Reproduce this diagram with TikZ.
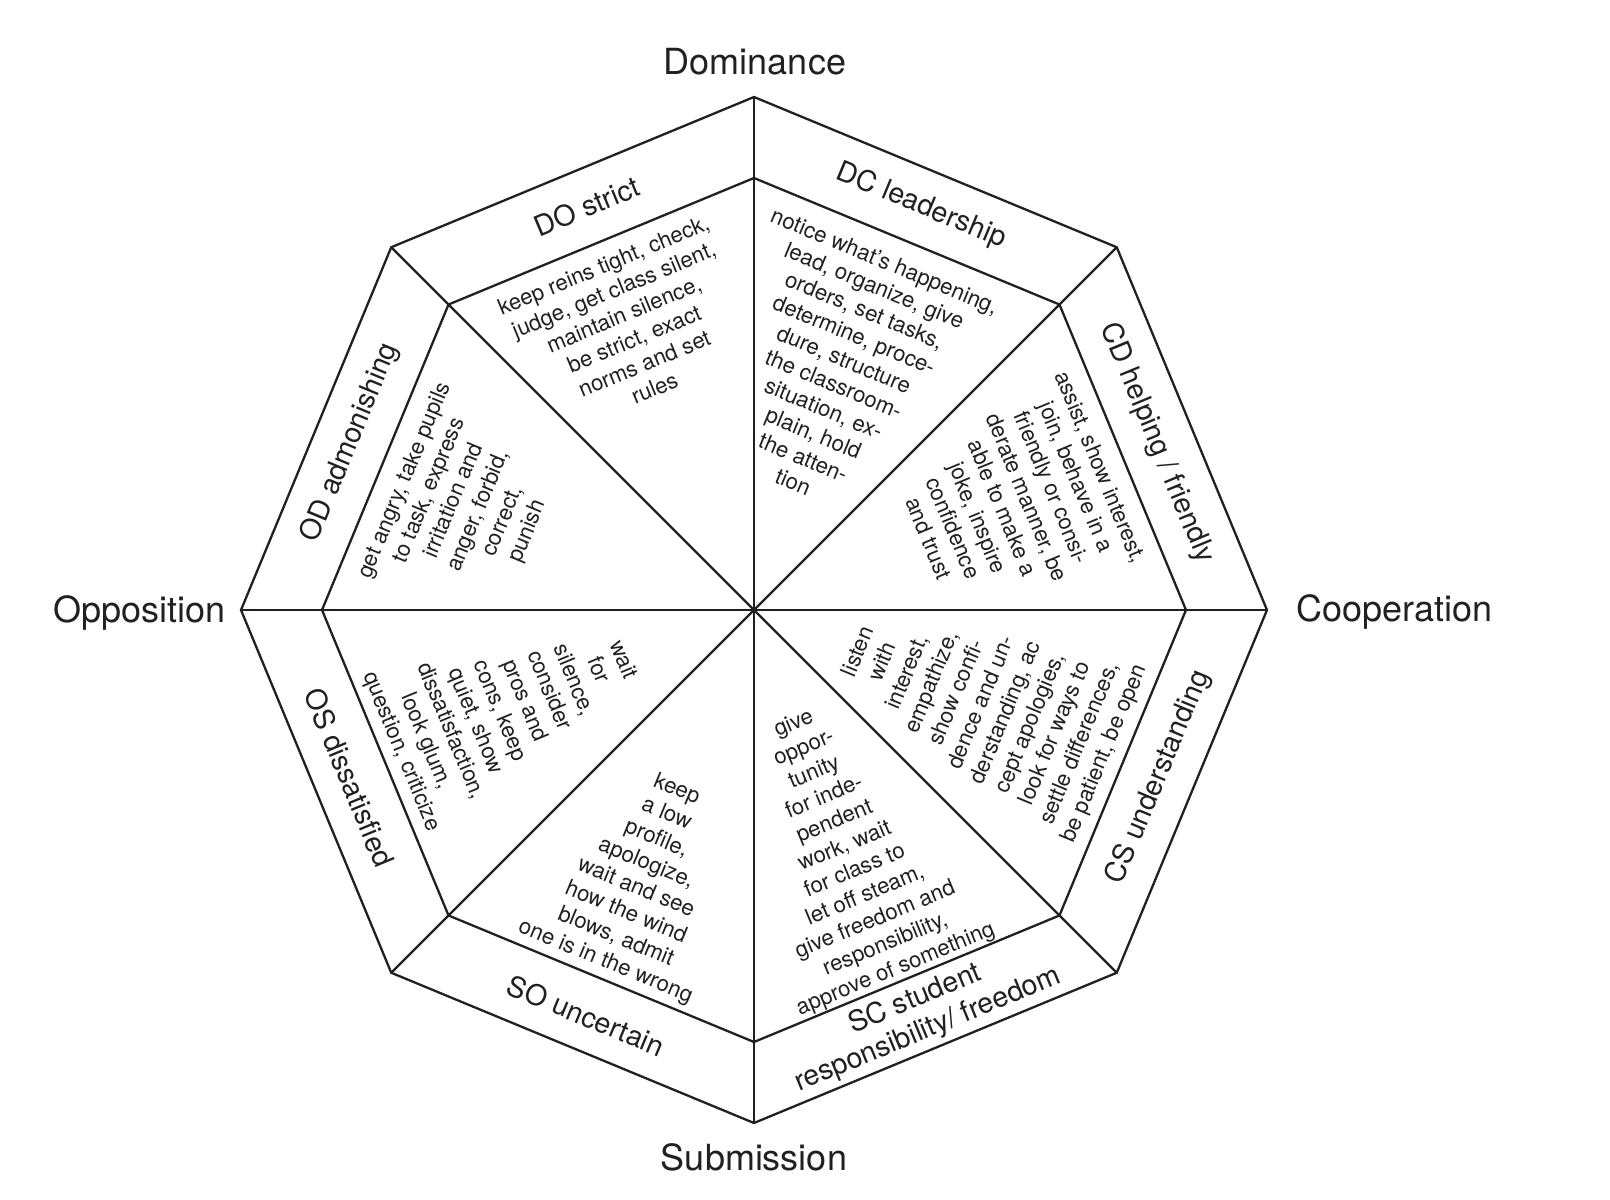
\documentclass[tikz,border=0pt]{standalone}
\usepackage{fontspec}
\setmainfont{TeX Gyre Heros}
\definecolor{ink}{RGB}{35,31,32}
\begin{document}
\begin{tikzpicture}[x=1pt,y=1pt, line width=2.3pt, draw=ink, text=ink,
  axislabel/.style={font=\fontsize{36}{43}\selectfont, inner sep=0pt},
  bandlabel/.style={font=\fontsize{28.5}{33}\selectfont, inner sep=0pt, align=center},
  sectortext/.style={font=\fontsize{22.2}{26.6}\selectfont, inner sep=0pt, align=center}]
\useasboundingbox (-754,-590) rectangle (856,610);
\coordinate (c) at (0,0);
\foreach \i in {0,...,7} {
  \coordinate (O\i) at ({90-45*\i}:513);
  \coordinate (I\i) at ({90-45*\i}:432);
}
\draw (O0)--(O1)--(O2)--(O3)--(O4)--(O5)--(O6)--(O7)--cycle;
\draw (I0)--(I1)--(I2)--(I3)--(I4)--(I5)--(I6)--(I7)--cycle;
\foreach \i in {0,...,7} \draw (c) -- (O\i);

% axis labels
\node[axislabel, anchor=base] (dom) at (1,535) {Dominance};
\node[axislabel, anchor=base west] (coop) at (541,-11.7) {Cooperation};
\node[axislabel, anchor=base east] (opp) at (-527,-12) {Opposition};
\node[axislabel, anchor=base] (sub) at (0,-560.5) {Submission};

% band labels
\node[bandlabel, rotate=22.5] (bDO) at (112.5:437) {DO strict};
\node[bandlabel, rotate=-22.5] (bDC) at (67.5:437) {DC leadership};
\node[bandlabel, rotate=-67.5] (bCD) at (22.5:436) {CD helping / friendly};
\node[bandlabel, rotate=67.5] (bCS) at (-22.5:438) {CS understanding};
\node[bandlabel, rotate=22.5] (bSC) at (-67.5:438) {SC student\\responsibility/ freedom};
\node[bandlabel, rotate=-22.5] (bSO) at (-112.5:439) {SO uncertain};
\node[bandlabel, rotate=-67.5] (bOS) at (-157.5:438) {OS dissatisfied};
\node[bandlabel, rotate=67.5] (bOD) at (157.5:437) {OD admonishing};

% sector texts
\node[sectortext, rotate=22.5] (tDO) at (-125,283.5) {keep reins tight, check,\\judge, get class silent,\\maintain silence,\\be strict, exact\\norms and set\\rules};
\node[sectortext, rotate=-22.5] (tDC) at (85,238.5) {notice what’s happening,\\lead, organize, give\\orders, set tasks,\\determine, proce-\\dure, structure\\the classroom-\\situation, ex-\\plain, hold\\the atten-\\tion};
\node[sectortext, rotate=-67.5] (tCD) at (261,107.5) {assist, show interest,\\join, behave in a\\friendly or consi-\\derate manner, be\\able to make a\\joke, inspire\\confidence\\and trust};
\node[sectortext, rotate=67.5] (tOD) at (-287.5,104) {get angry, take pupils\\to task, express\\irritation and\\anger, forbid,\\correct,\\punish};
\node[sectortext, rotate=-67.5] (tOS) at (-242.5,-96) {wait\\for\\silence,\\consider\\pros and\\cons, keep\\quiet, show\\dissatisfaction,\\look glum,\\question, criticize};
\node[sectortext, rotate=-22.5] (tSO) at (-113,-266) {keep\\a low\\profile,\\apologize,\\wait and see\\how the wind\\blows, admit\\one is in the wrong};
\node[sectortext, rotate=22.5] (tSC) at (91,-237) {give\\oppor-\\tunity\\for inde-\\pendent\\work, wait\\for class to\\let off steam,\\give freedom and\\responsibility,\\approve of something};
\node[sectortext, rotate=67.5] (tCS) at (228,-93) {listen\\with\\interest,\\empathize,\\show confi-\\dence and un-\\derstanding, ac\\cept apologies,\\look for ways to\\settle differences,\\be patient, be open};
\end{tikzpicture}
\end{document}
